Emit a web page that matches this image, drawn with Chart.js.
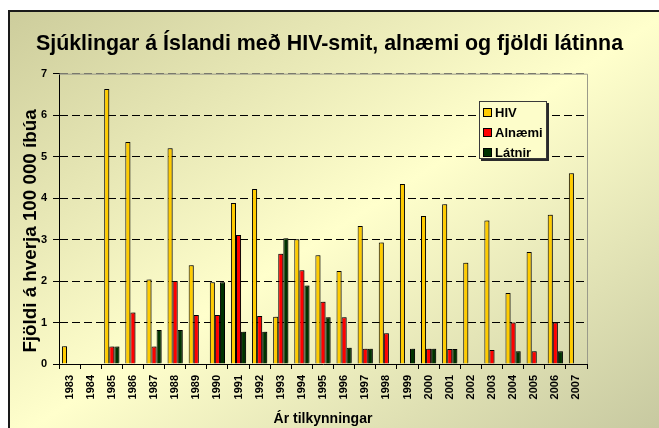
<!DOCTYPE html>
<html>
<head>
<meta charset="UTF-8" />
<script src="https://cdn.jsdelivr.net/npm/chart.js"></script>
<style>
  body {
    margin: 0;
    padding: 0;
    width: 659px;
    height: 428px;
    overflow: hidden;
    background: #fff;
    font-family: Arial, 'Liberation Sans', sans-serif;
  }
  .frame {
    position: absolute;
    left: 8px;
    top: 10px;
    width: 660px;
    height: 430px;
    border-left: 2px solid #1a1a1a;
    border-top: 2px solid #1a1a1a;
    background: linear-gradient(to bottom right, #cdcd9c 0%, #ffffcc 50%, #c4c69e 100%);
  }
  #chart {
    position: absolute;
    left: 0;
    top: 0;
  }
  .ytitle {
    position: absolute;
    left: -120px;
    top: 220px;
    width: 300px;
    height: 22px;
    line-height: 22px;
    text-align: center;
    transform: rotate(-90deg);
    font-weight: bold;
    font-size: 18.8px;
    color: #000;
    white-space: nowrap;
  }
  .legend {
    position: absolute;
    left: 479px;
    top: 101px;
    width: 68px;
    height: 58px;
    box-sizing: border-box;
    border: 1px solid #3a3a3a;
    background: #fdfdca;
    box-shadow: 2px 2px 0 #2a2a2a;
    font-weight: bold;
    font-size: 13px;
    color: #000;
  }
  .legend .item {
    position: absolute;
    left: 3px;
    height: 16px;
    line-height: 16px;
    white-space: nowrap;
  }
  .legend .sw {
    display: inline-block;
    width: 7px;
    height: 7px;
    border: 1px solid #000;
    margin-right: 3px;
    vertical-align: 0px;
  }
</style>
</head>
<body>
<div class="frame"></div>
<canvas id="chart" width="659" height="428"></canvas>
<div class="ytitle">Fjöldi á hverja 100 000 íbúa</div>
<div class="legend" id="legend"></div>
<script>
  const years = ['1983', '1984', '1985', '1986', '1987', '1988', '1989', '1990', '1991', '1992',
    '1993', '1994', '1995', '1996', '1997', '1998', '1999', '2000', '2001', '2002',
    '2003', '2004', '2005', '2006', '2007'];
  const hiv = [0.43, 0, 6.63, 5.35, 2.04, 5.20, 2.38, 1.97, 3.88, 4.22,
    1.14, 3.01, 2.62, 2.24, 3.33, 2.93, 4.34, 3.57, 3.85, 2.44,
    3.46, 1.71, 2.70, 3.60, 4.60];
  const alnaemi = [0, 0, 0.42, 1.24, 0.42, 2.00, 1.18, 1.18, 3.11, 1.16,
    2.66, 2.26, 1.50, 1.13, 0.37, 0.74, 0, 0.37, 0.36, 0,
    0.34, 1.00, 0.31, 1.00, 0];
  const latnir = [0, 0, 0.42, 0, 0.82, 0.82, 0, 1.97, 0.78, 0.78,
    3.03, 1.89, 1.13, 0.39, 0.37, 0, 0.37, 0.37, 0.36, 0,
    0, 0.31, 0, 0.31, 0];
  const seriesNames = ['HIV', 'Alnæmi', 'Látnir'];
  const seriesColors = ['#FFCC00', '#FF0000', '#003300'];
  const yTicks = [0, 1, 2, 3, 4, 5, 6, 7];

  Chart.defaults.font.family = "Arial, 'Liberation Sans', sans-serif";
  Chart.defaults.color = '#000';

  // gra rammi efst og til haegri um teiknisvaedid
  const plotBorder = {
    id: 'plotBorder',
    beforeDatasetsDraw(chart) {
      const { ctx, chartArea: a } = chart;
      ctx.save();
      ctx.strokeStyle = '#9a9a8a';
      ctx.lineWidth = 1;
      ctx.beginPath();
      ctx.moveTo(a.left, a.top + 0.5);
      ctx.lineTo(a.right + 0.5, a.top + 0.5);
      ctx.lineTo(a.right + 0.5, a.bottom);
      ctx.stroke();
      ctx.restore();
    }
  };

  // skuggi a sulunum
  const barShadow = {
    id: 'barShadow',
    beforeDatasetsDraw(chart) {
      const ctx = chart.ctx;
      ctx.save();
      ctx.shadowColor = 'rgba(0,0,0,0.3)';
      ctx.shadowOffsetX = 2;
      ctx.shadowOffsetY = -1;
      ctx.shadowBlur = 0;
    },
    afterDatasetsDraw(chart) {
      chart.ctx.restore();
    }
  };

  const data = {
    labels: years,
    datasets: [hiv, alnaemi, latnir].map((vals, i) => ({
      label: seriesNames[i],
      data: vals,
      backgroundColor: seriesColors[i],
      borderColor: '#000',
      borderWidth: 1,
      categoryPercentage: 0.72,
      barPercentage: 1.0
    }))
  };

  new Chart(document.getElementById('chart'), {
    type: 'bar',
    data: data,
    plugins: [plotBorder, barShadow],
    options: {
      responsive: false,
      animation: false,
      devicePixelRatio: 1,
      layout: { padding: 0 },
      plugins: {
        legend: { display: false },
        tooltip: { enabled: false },
        title: {
          display: true,
          text: 'Sjúklingar á Íslandi með HIV-smit, alnæmi og fjöldi látinna',
          font: { size: 21.4, weight: 'bold' },
          color: '#000',
          padding: { top: 31, bottom: 17 }
        }
      },
      scales: {
        x: {
          grid: {
            offset: true,
            drawOnChartArea: false,
            tickLength: 5,
            color: '#000'
          },
          border: { color: '#000', width: 1 },
          ticks: {
            autoSkip: false,
            maxRotation: 90,
            minRotation: 90,
            padding: 6,
            font: { size: 11, weight: 'bold' }
          },
          title: {
            display: true,
            text: 'Ár tilkynningar',
            font: { size: 14, weight: 'bold' },
            padding: { top: 0, bottom: 0 }
          },
          afterFit(scale) { scale.height = 64; }
        },
        y: {
          min: 0,
          max: 7,
          afterBuildTicks(scale) { scale.ticks = yTicks.map(v => ({ value: v })); },
          grid: {
            color: ctx => ctx.tick && ctx.tick.value === 0 ? 'rgba(0,0,0,0)' : (ctx.tick && ctx.tick.value === 7 ? '#6a6a60' : '#000'),
            tickColor: '#000',
            tickBorderDash: [],
            tickLength: 6,
            lineWidth: 1
          },
          border: { color: '#000', width: 1, dash: [8, 4] },
          ticks: {
            padding: 6,
            font: { size: 11, weight: 'bold' }
          },
          afterFit(scale) { scale.width = 59; }
        },
        yR: {
          position: 'right',
          display: true,
          grid: { display: false },
          border: { display: false },
          ticks: { display: false },
          afterFit(scale) { scale.width = 72; }
        }
      }
    }
  });

  // skyringar
  const legend = document.getElementById('legend');
  seriesNames.forEach((name, i) => {
    const item = document.createElement('div');
    item.className = 'item';
    item.style.top = (3 + i * 20) + 'px';
    item.innerHTML = '<span class="sw" style="background:' + seriesColors[i] + '"></span>' + name;
    legend.appendChild(item);
  });
</script>
</body>
</html>
